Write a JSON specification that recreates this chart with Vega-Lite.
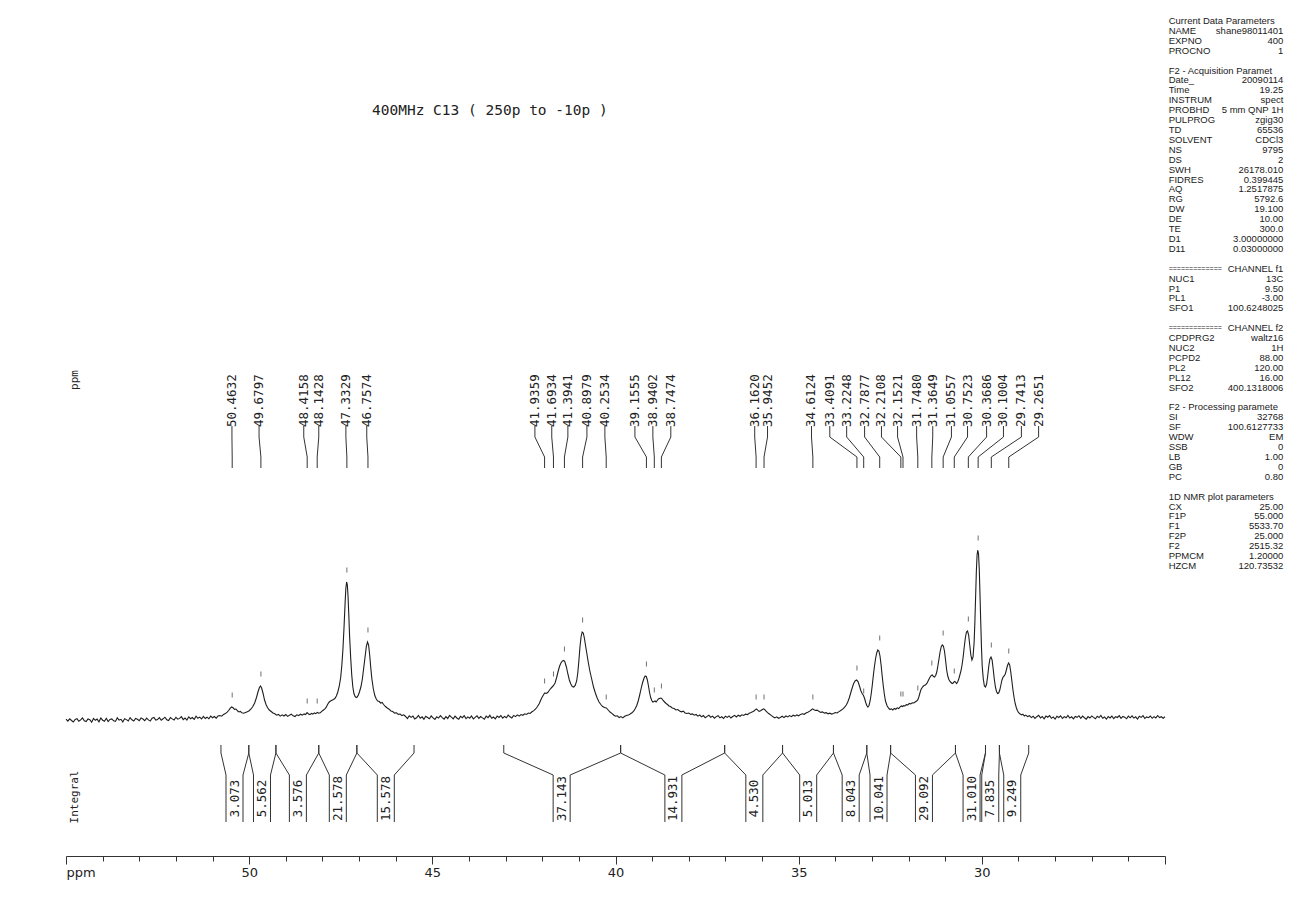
{
"$schema":"https://vega.github.io/schema/vega-lite/v6.json",
"width":1099,"height":856,
"autosize":{"type":"none"},
"padding":{"left":66,"top":0,"right":131,"bottom":59},
"background":"#ffffff",
"config":{"view":{"stroke":null}},
"title":{"text":"400MHz C13 ( 250p to -10p )","anchor":"start","frame":"group","font":"DejaVu Sans Mono","fontSize":14.5,"fontWeight":"normal","color":"#222222","baseline":"middle","offset":0,"dx":306,"dy":125},
"datasets":{
"spectrum":[
{"ppm":55.00,"i":-2.2},{"ppm":54.95,"i":-4.1},{"ppm":54.90,"i":-1.8},{"ppm":54.85,"i":-3.5},{"ppm":54.80,"i":-5.0},{"ppm":54.75,"i":-2.4},{"ppm":54.70,"i":-1.6},{"ppm":54.65,"i":-4.3},{"ppm":54.60,"i":-2.9},{"ppm":54.55,"i":-0.9},{"ppm":54.50,"i":-3.8},{"ppm":54.45,"i":-4.6},{"ppm":54.40,"i":-1.9},{"ppm":54.35,"i":-2.7},{"ppm":54.30,"i":-5.2},{"ppm":54.25,"i":-1.4},{"ppm":54.20,"i":-3.3},{"ppm":54.15,"i":-2.1},{"ppm":54.10,"i":-4.8},{"ppm":54.05,"i":-1.0},{"ppm":54.00,"i":-3.2},{"ppm":53.95,"i":-4.2},{"ppm":53.90,"i":-1.3},{"ppm":53.85,"i":-4.5},{"ppm":53.80,"i":-2.5},{"ppm":53.75,"i":-1.9},{"ppm":53.70,"i":-3.8},{"ppm":53.65,"i":-4.4},{"ppm":53.60,"i":-0.8},{"ppm":53.55,"i":-3.0},{"ppm":53.50,"i":-2.3},{"ppm":53.45,"i":-4.9},{"ppm":53.40,"i":-1.7},{"ppm":53.35,"i":-2.6},{"ppm":53.30,"i":-3.9},{"ppm":53.25,"i":-0.6},{"ppm":53.20,"i":-2.8},{"ppm":53.15,"i":-4.0},{"ppm":53.10,"i":-1.5},{"ppm":53.05,"i":-2.2},{"ppm":53.00,"i":-3.6},{"ppm":52.95,"i":-0.9},{"ppm":52.90,"i":-2.0},{"ppm":52.85,"i":-3.7},{"ppm":52.80,"i":-1.1},{"ppm":52.75,"i":-2.9},{"ppm":52.70,"i":-4.1},{"ppm":52.65,"i":-1.2},{"ppm":52.60,"i":-0.4},{"ppm":52.55,"i":-3.1},{"ppm":52.50,"i":-2.4},{"ppm":52.45,"i":-0.7},{"ppm":52.40,"i":-3.3},{"ppm":52.35,"i":-1.8},{"ppm":52.30,"i":-0.2},{"ppm":52.25,"i":-2.7},{"ppm":52.20,"i":-3.5},{"ppm":52.15,"i":-0.6},{"ppm":52.10,"i":-1.9},{"ppm":52.05,"i":-3.0},{"ppm":52.00,"i":-0.3},{"ppm":51.95,"i":-2.2},{"ppm":51.90,"i":-1.4},{"ppm":51.85,"i":0.4},{"ppm":51.80,"i":-2.6},{"ppm":51.75,"i":-1.0},{"ppm":51.70,"i":-3.1},{"ppm":51.65,"i":0.2},{"ppm":51.60,"i":-1.7},{"ppm":51.55,"i":-0.5},{"ppm":51.50,"i":-2.4},{"ppm":51.45,"i":0.8},{"ppm":51.40,"i":-1.3},{"ppm":51.35,"i":-0.1},{"ppm":51.30,"i":-2.0},{"ppm":51.25,"i":0.6},{"ppm":51.20,"i":-1.5},{"ppm":51.15,"i":-0.2},{"ppm":51.10,"i":-1.8},{"ppm":51.05,"i":0.9},{"ppm":51.00,"i":-0.7},{"ppm":50.95,"i":0.5},{"ppm":50.90,"i":-1.2},{"ppm":50.85,"i":1.1},
{"ppm":50.80,"i":1.4},{"ppm":50.75,"i":0.8},{"ppm":50.70,"i":2.6},{"ppm":50.65,"i":3.4},{"ppm":50.60,"i":4.8},{"ppm":50.56,"i":6.5},{"ppm":50.52,"i":8.6},{"ppm":50.48,"i":10.0},{"ppm":50.44,"i":9.2},{"ppm":50.40,"i":7.6},{"ppm":50.36,"i":8.0},{"ppm":50.32,"i":6.2},{"ppm":50.28,"i":5.1},{"ppm":50.24,"i":5.6},{"ppm":50.20,"i":4.2},{"ppm":50.15,"i":3.8},{"ppm":50.10,"i":4.5},{"ppm":50.05,"i":5.2},
{"ppm":50.00,"i":6.3},{"ppm":49.95,"i":8.0},{"ppm":49.90,"i":10.5},{"ppm":49.85,"i":14.0},{"ppm":49.80,"i":19.5},{"ppm":49.76,"i":25.0},{"ppm":49.72,"i":29.5},{"ppm":49.69,"i":31.0},{"ppm":49.66,"i":29.0},{"ppm":49.62,"i":23.5},{"ppm":49.58,"i":17.0},{"ppm":49.54,"i":12.5},{"ppm":49.50,"i":9.5},{"ppm":49.45,"i":7.0},{"ppm":49.40,"i":5.5},{"ppm":49.35,"i":4.0},{"ppm":49.30,"i":3.2},{"ppm":49.25,"i":1.8},{"ppm":49.20,"i":2.6},{"ppm":49.15,"i":0.9},{"ppm":49.10,"i":2.1},{"ppm":49.05,"i":1.0},{"ppm":49.00,"i":2.4},{"ppm":48.95,"i":0.6},{"ppm":48.90,"i":1.7},{"ppm":48.85,"i":2.9},{"ppm":48.80,"i":1.2},{"ppm":48.75,"i":0.5},{"ppm":48.70,"i":2.2},{"ppm":48.65,"i":1.4},{"ppm":48.60,"i":2.8},{"ppm":48.55,"i":1.9},{"ppm":48.50,"i":3.1},{"ppm":48.46,"i":2.5},{"ppm":48.42,"i":4.4},{"ppm":48.38,"i":3.0},{"ppm":48.34,"i":2.4},{"ppm":48.30,"i":3.6},{"ppm":48.26,"i":2.9},{"ppm":48.22,"i":4.1},{"ppm":48.18,"i":3.3},{"ppm":48.14,"i":4.6},{"ppm":48.10,"i":3.8},{"ppm":48.06,"i":4.2},{"ppm":48.02,"i":5.6},{"ppm":47.98,"i":6.8},{"ppm":47.94,"i":7.9},{"ppm":47.90,"i":9.6},{"ppm":47.86,"i":12.5},{"ppm":47.82,"i":14.8},{"ppm":47.78,"i":16.0},{"ppm":47.74,"i":16.8},{"ppm":47.70,"i":17.5},{"ppm":47.66,"i":18.5},{"ppm":47.62,"i":21.0},{"ppm":47.58,"i":25.0},{"ppm":47.54,"i":31.0},{"ppm":47.50,"i":40.0},{"ppm":47.47,"i":52.0},{"ppm":47.44,"i":68.0},{"ppm":47.41,"i":90.0},{"ppm":47.38,"i":115.0},{"ppm":47.36,"i":129.0},{"ppm":47.34,"i":135.0},{"ppm":47.32,"i":132.0},{"ppm":47.30,"i":120.0},{"ppm":47.28,"i":102.0},{"ppm":47.26,"i":82.0},{"ppm":47.23,"i":60.0},{"ppm":47.20,"i":42.0},{"ppm":47.17,"i":30.0},{"ppm":47.14,"i":23.5},{"ppm":47.11,"i":20.5},{"ppm":47.08,"i":19.5},{"ppm":47.05,"i":20.0},{"ppm":47.02,"i":22.0},{"ppm":46.99,"i":25.0},{"ppm":46.95,"i":30.0},{"ppm":46.91,"i":38.0},{"ppm":46.87,"i":50.0},{"ppm":46.83,"i":62.0},{"ppm":46.80,"i":71.0},{"ppm":46.77,"i":75.0},{"ppm":46.74,"i":72.0},{"ppm":46.71,"i":62.0},{"ppm":46.68,"i":49.0},{"ppm":46.65,"i":38.0},{"ppm":46.61,"i":28.0},{"ppm":46.57,"i":21.5},{"ppm":46.53,"i":18.0},{"ppm":46.49,"i":16.0},{"ppm":46.45,"i":15.5},{"ppm":46.41,"i":14.0},{"ppm":46.37,"i":14.5},{"ppm":46.33,"i":12.5},{"ppm":46.28,"i":10.5},{"ppm":46.23,"i":9.0},{"ppm":46.18,"i":7.8},{"ppm":46.13,"i":6.1},{"ppm":46.08,"i":5.4},{"ppm":46.03,"i":3.9},{"ppm":45.98,"i":4.2},{"ppm":45.93,"i":2.6},{"ppm":45.88,"i":3.0},{"ppm":45.83,"i":1.4},{"ppm":45.78,"i":2.2},
{"ppm":45.73,"i":0.5},{"ppm":45.68,"i":-1.6},{"ppm":45.63,"i":1.2},{"ppm":45.58,"i":-0.4},{"ppm":45.53,"i":0.9},{"ppm":45.48,"i":-2.0},{"ppm":45.43,"i":-0.8},{"ppm":45.38,"i":1.5},{"ppm":45.33,"i":-1.3},{"ppm":45.28,"i":0.2},{"ppm":45.23,"i":-2.2},{"ppm":45.18,"i":0.7},{"ppm":45.13,"i":-0.5},{"ppm":45.08,"i":-1.8},{"ppm":45.03,"i":1.0},{"ppm":44.98,"i":-0.9},{"ppm":44.93,"i":-2.4},{"ppm":44.88,"i":0.3},{"ppm":44.83,"i":-1.1},{"ppm":44.78,"i":1.3},{"ppm":44.73,"i":-0.6},{"ppm":44.68,"i":-2.1},{"ppm":44.63,"i":0.4},{"ppm":44.58,"i":-1.5},{"ppm":44.53,"i":1.6},{"ppm":44.48,"i":-0.2},{"ppm":44.43,"i":-1.9},{"ppm":44.38,"i":0.8},{"ppm":44.33,"i":-1.0},{"ppm":44.28,"i":-2.3},{"ppm":44.23,"i":0.6},{"ppm":44.18,"i":-0.7},{"ppm":44.13,"i":1.4},{"ppm":44.08,"i":-1.7},{"ppm":44.03,"i":0.1},{"ppm":43.98,"i":-1.2},{"ppm":43.93,"i":1.1},{"ppm":43.88,"i":-2.0},{"ppm":43.83,"i":-0.3},{"ppm":43.78,"i":1.2},{"ppm":43.73,"i":-1.4},{"ppm":43.68,"i":0.5},{"ppm":43.63,"i":-0.9},{"ppm":43.58,"i":-2.2},{"ppm":43.53,"i":0.9},{"ppm":43.48,"i":-0.6},{"ppm":43.43,"i":1.7},{"ppm":43.38,"i":-1.3},{"ppm":43.33,"i":0.0},{"ppm":43.28,"i":-1.8},{"ppm":43.23,"i":1.0},{"ppm":43.18,"i":-0.4},{"ppm":43.13,"i":1.5},{"ppm":43.08,"i":-1.1},{"ppm":43.03,"i":0.6},{"ppm":42.98,"i":-0.8},{"ppm":42.93,"i":1.9},{"ppm":42.88,"i":0.2},{"ppm":42.83,"i":-0.9},{"ppm":42.78,"i":1.6},{"ppm":42.73,"i":0.4},{"ppm":42.68,"i":2.1},{"ppm":42.63,"i":0.9},{"ppm":42.58,"i":2.4},{"ppm":42.53,"i":1.7},{"ppm":42.48,"i":3.2},
{"ppm":42.43,"i":2.6},{"ppm":42.38,"i":4.0},{"ppm":42.33,"i":3.5},{"ppm":42.28,"i":5.2},{"ppm":42.23,"i":6.4},{"ppm":42.18,"i":8.0},{"ppm":42.13,"i":10.5},{"ppm":42.08,"i":13.5},{"ppm":42.04,"i":17.0},{"ppm":42.00,"i":20.0},{"ppm":41.96,"i":22.5},{"ppm":41.93,"i":24.0},{"ppm":41.89,"i":23.5},{"ppm":41.85,"i":24.5},{"ppm":41.81,"i":26.5},{"ppm":41.77,"i":28.5},{"ppm":41.73,"i":30.0},{"ppm":41.69,"i":31.5},{"ppm":41.65,"i":34.0},{"ppm":41.61,"i":39.0},{"ppm":41.57,"i":45.0},{"ppm":41.53,"i":50.5},{"ppm":41.49,"i":54.0},{"ppm":41.45,"i":56.0},{"ppm":41.41,"i":56.5},{"ppm":41.38,"i":55.0},{"ppm":41.34,"i":50.0},{"ppm":41.30,"i":43.0},{"ppm":41.26,"i":37.0},{"ppm":41.22,"i":33.0},{"ppm":41.18,"i":30.5},{"ppm":41.14,"i":30.0},{"ppm":41.10,"i":31.5},{"ppm":41.06,"i":36.0},{"ppm":41.03,"i":44.0},{"ppm":41.00,"i":56.0},{"ppm":40.97,"i":70.0},{"ppm":40.94,"i":80.0},{"ppm":40.91,"i":85.0},{"ppm":40.88,"i":84.0},{"ppm":40.85,"i":79.0},{"ppm":40.82,"i":72.0},{"ppm":40.78,"i":63.0},{"ppm":40.74,"i":54.0},{"ppm":40.70,"i":46.0},{"ppm":40.65,"i":38.0},{"ppm":40.60,"i":30.0},{"ppm":40.55,"i":24.0},{"ppm":40.50,"i":19.0},{"ppm":40.45,"i":15.0},{"ppm":40.40,"i":12.5},{"ppm":40.35,"i":10.5},{"ppm":40.30,"i":9.5},{"ppm":40.25,"i":9.0},{"ppm":40.20,"i":7.0},{"ppm":40.15,"i":5.0},{"ppm":40.10,"i":3.6},{"ppm":40.05,"i":2.0},{"ppm":40.00,"i":0.8},{"ppm":39.95,"i":1.2},{"ppm":39.90,"i":-0.6},{"ppm":39.85,"i":0.4},{"ppm":39.80,"i":-0.9},{"ppm":39.75,"i":0.7},{"ppm":39.70,"i":1.5},{"ppm":39.65,"i":1.9},{"ppm":39.60,"i":3.0},{"ppm":39.55,"i":4.2},{"ppm":39.50,"i":6.0},{"ppm":39.46,"i":8.5},{"ppm":39.42,"i":11.5},{"ppm":39.38,"i":16.0},{"ppm":39.34,"i":22.0},{"ppm":39.30,"i":28.5},{"ppm":39.26,"i":34.5},{"ppm":39.22,"i":39.0},{"ppm":39.19,"i":41.0},{"ppm":39.16,"i":40.5},{"ppm":39.13,"i":37.0},{"ppm":39.10,"i":31.0},{"ppm":39.07,"i":24.5},{"ppm":39.04,"i":19.5},{"ppm":39.01,"i":16.5},{"ppm":38.98,"i":15.0},{"ppm":38.95,"i":15.5},{"ppm":38.92,"i":16.0},{"ppm":38.89,"i":15.0},{"ppm":38.86,"i":16.5},{"ppm":38.83,"i":18.0},{"ppm":38.80,"i":18.5},{"ppm":38.77,"i":19.0},{"ppm":38.74,"i":18.5},{"ppm":38.70,"i":16.5},{"ppm":38.66,"i":15.0},{"ppm":38.62,"i":13.5},{"ppm":38.58,"i":12.5},{"ppm":38.54,"i":11.0},{"ppm":38.50,"i":10.5},{"ppm":38.45,"i":9.0},{"ppm":38.40,"i":8.5},{"ppm":38.35,"i":7.0},{"ppm":38.30,"i":7.5},{"ppm":38.25,"i":6.0},{"ppm":38.20,"i":5.2},{"ppm":38.15,"i":5.8},{"ppm":38.10,"i":4.1},{"ppm":38.05,"i":3.5},{"ppm":38.00,"i":4.0},{"ppm":37.95,"i":2.6},{"ppm":37.90,"i":3.1},{"ppm":37.85,"i":1.8},{"ppm":37.80,"i":2.5},
{"ppm":37.75,"i":0.9},{"ppm":37.70,"i":2.0},{"ppm":37.65,"i":0.2},{"ppm":37.60,"i":1.4},{"ppm":37.55,"i":-0.8},{"ppm":37.50,"i":0.6},{"ppm":37.45,"i":1.7},{"ppm":37.40,"i":-0.3},{"ppm":37.35,"i":0.9},{"ppm":37.30,"i":-1.2},{"ppm":37.25,"i":0.4},{"ppm":37.20,"i":1.3},{"ppm":37.15,"i":-0.9},{"ppm":37.10,"i":0.2},{"ppm":37.05,"i":-1.5},{"ppm":37.00,"i":0.8},{"ppm":36.95,"i":-0.4},{"ppm":36.90,"i":1.1},{"ppm":36.85,"i":-1.0},{"ppm":36.80,"i":0.5},{"ppm":36.75,"i":1.6},{"ppm":36.70,"i":0.0},{"ppm":36.65,"i":1.8},{"ppm":36.60,"i":0.7},{"ppm":36.55,"i":2.2},{"ppm":36.50,"i":1.5},{"ppm":36.45,"i":2.9},{"ppm":36.40,"i":2.4},{"ppm":36.35,"i":3.8},{"ppm":36.30,"i":4.5},{"ppm":36.26,"i":5.2},{"ppm":36.22,"i":6.0},{"ppm":36.18,"i":7.4},{"ppm":36.15,"i":8.0},{"ppm":36.12,"i":6.8},{"ppm":36.08,"i":5.6},{"ppm":36.04,"i":6.2},{"ppm":36.00,"i":7.2},{"ppm":35.96,"i":8.2},{"ppm":35.93,"i":7.6},{"ppm":35.89,"i":5.9},{"ppm":35.85,"i":4.4},{"ppm":35.80,"i":3.0},{"ppm":35.75,"i":1.6},{"ppm":35.70,"i":0.3},{"ppm":35.65,"i":-0.9},{"ppm":35.60,"i":0.2},{"ppm":35.55,"i":-1.3},{"ppm":35.50,"i":-0.4},{"ppm":35.45,"i":0.8},{"ppm":35.40,"i":-0.6},{"ppm":35.35,"i":1.0},{"ppm":35.30,"i":0.1},{"ppm":35.25,"i":1.4},{"ppm":35.20,"i":0.3},{"ppm":35.15,"i":1.8},{"ppm":35.10,"i":0.9},{"ppm":35.05,"i":2.1},{"ppm":35.00,"i":1.2},{"ppm":34.95,"i":2.6},{"ppm":34.90,"i":3.2},{"ppm":34.85,"i":2.7},{"ppm":34.80,"i":4.0},{"ppm":34.75,"i":4.8},{"ppm":34.70,"i":5.9},{"ppm":34.66,"i":7.0},{"ppm":34.62,"i":8.2},{"ppm":34.58,"i":7.3},{"ppm":34.54,"i":6.5},{"ppm":34.50,"i":6.9},{"ppm":34.45,"i":5.8},{"ppm":34.40,"i":4.6},{"ppm":34.35,"i":5.1},{"ppm":34.30,"i":3.9},{"ppm":34.25,"i":4.4},{"ppm":34.20,"i":3.2},{"ppm":34.15,"i":3.8},{"ppm":34.10,"i":2.9},{"ppm":34.05,"i":3.6},{"ppm":34.00,"i":4.5},{"ppm":33.95,"i":4.0},{"ppm":33.90,"i":5.4},{"ppm":33.85,"i":6.5},{"ppm":33.80,"i":7.8},{"ppm":33.75,"i":9.6},{"ppm":33.70,"i":12.0},{"ppm":33.66,"i":15.0},{"ppm":33.62,"i":19.0},{"ppm":33.58,"i":24.0},{"ppm":33.54,"i":29.0},{"ppm":33.50,"i":33.5},{"ppm":33.46,"i":36.0},{"ppm":33.42,"i":37.0},{"ppm":33.38,"i":35.5},{"ppm":33.34,"i":31.0},{"ppm":33.30,"i":26.0},{"ppm":33.26,"i":23.0},{"ppm":33.23,"i":21.5},{"ppm":33.20,"i":18.5},{"ppm":33.17,"i":14.5},{"ppm":33.14,"i":11.5},{"ppm":33.11,"i":10.0},{"ppm":33.08,"i":11.5},{"ppm":33.05,"i":16.0},{"ppm":33.02,"i":23.0},{"ppm":32.99,"i":32.0},{"ppm":32.96,"i":42.0},{"ppm":32.93,"i":51.0},{"ppm":32.90,"i":58.5},{"ppm":32.87,"i":64.0},{"ppm":32.84,"i":67.0},{"ppm":32.81,"i":66.0},{"ppm":32.78,"i":61.0},{"ppm":32.75,"i":52.0},{"ppm":32.72,"i":41.0},{"ppm":32.69,"i":31.0},{"ppm":32.66,"i":22.5},{"ppm":32.63,"i":16.0},{"ppm":32.59,"i":11.5},{"ppm":32.55,"i":9.0},{"ppm":32.51,"i":7.5},{"ppm":32.47,"i":8.2},{"ppm":32.43,"i":7.0},{"ppm":32.39,"i":8.6},{"ppm":32.35,"i":7.8},{"ppm":32.31,"i":9.2},{"ppm":32.27,"i":8.5},{"ppm":32.23,"i":10.2},{"ppm":32.20,"i":11.0},{"ppm":32.17,"i":10.4},{"ppm":32.14,"i":11.3},{"ppm":32.10,"i":11.0},{"ppm":32.06,"i":12.4},{"ppm":32.02,"i":12.0},{"ppm":31.98,"i":13.5},{"ppm":31.94,"i":13.0},{"ppm":31.90,"i":14.2},{"ppm":31.86,"i":14.0},{"ppm":31.82,"i":15.0},{"ppm":31.78,"i":16.0},{"ppm":31.75,"i":17.0},{"ppm":31.72,"i":20.0},{"ppm":31.69,"i":24.0},{"ppm":31.66,"i":27.5},{"ppm":31.62,"i":30.0},{"ppm":31.58,"i":31.5},{"ppm":31.54,"i":32.0},{"ppm":31.50,"i":33.5},{"ppm":31.46,"i":36.5},{"ppm":31.42,"i":39.5},{"ppm":31.38,"i":41.5},{"ppm":31.35,"i":42.0},{"ppm":31.32,"i":40.5},{"ppm":31.29,"i":40.0},{"ppm":31.26,"i":41.5},{"ppm":31.23,"i":45.0},{"ppm":31.20,"i":51.0},{"ppm":31.17,"i":58.0},{"ppm":31.14,"i":65.0},{"ppm":31.11,"i":70.0},{"ppm":31.08,"i":72.0},{"ppm":31.05,"i":71.0},{"ppm":31.02,"i":66.0},{"ppm":30.99,"i":57.0},{"ppm":30.96,"i":47.0},{"ppm":30.93,"i":41.0},{"ppm":30.90,"i":37.5},{"ppm":30.87,"i":35.5},{"ppm":30.84,"i":34.5},{"ppm":30.81,"i":33.5},{"ppm":30.78,"i":34.0},{"ppm":30.75,"i":35.5},{"ppm":30.72,"i":35.0},{"ppm":30.69,"i":33.5},{"ppm":30.66,"i":35.0},{"ppm":30.63,"i":38.0},{"ppm":30.60,"i":42.0},{"ppm":30.57,"i":46.0},{"ppm":30.54,"i":52.0},{"ppm":30.51,"i":60.0},{"ppm":30.48,"i":70.0},{"ppm":30.45,"i":79.0},{"ppm":30.42,"i":85.0},{"ppm":30.39,"i":86.0},{"ppm":30.36,"i":82.0},{"ppm":30.33,"i":72.0},{"ppm":30.30,"i":62.0},{"ppm":30.27,"i":57.0},{"ppm":30.24,"i":60.0},{"ppm":30.21,"i":75.0},{"ppm":30.19,"i":95.0},{"ppm":30.17,"i":120.0},{"ppm":30.15,"i":145.0},{"ppm":30.13,"i":162.0},{"ppm":30.11,"i":167.0},{"ppm":30.09,"i":163.0},{"ppm":30.07,"i":148.0},{"ppm":30.05,"i":122.0},{"ppm":30.03,"i":95.0},{"ppm":30.01,"i":70.0},{"ppm":29.99,"i":51.0},{"ppm":29.96,"i":38.0},{"ppm":29.93,"i":31.0},{"ppm":29.90,"i":30.0},{"ppm":29.87,"i":33.0},{"ppm":29.84,"i":41.0},{"ppm":29.81,"i":51.0},{"ppm":29.78,"i":58.0},{"ppm":29.75,"i":60.0},{"ppm":29.72,"i":57.0},{"ppm":29.69,"i":48.0},{"ppm":29.66,"i":38.0},{"ppm":29.63,"i":30.0},{"ppm":29.60,"i":25.5},{"ppm":29.57,"i":23.5},{"ppm":29.54,"i":24.0},{"ppm":29.51,"i":27.0},{"ppm":29.48,"i":32.0},{"ppm":29.45,"i":37.0},{"ppm":29.42,"i":40.0},{"ppm":29.39,"i":41.0},{"ppm":29.36,"i":43.0},{"ppm":29.33,"i":47.0},{"ppm":29.30,"i":51.5},{"ppm":29.27,"i":54.0},{"ppm":29.24,"i":52.0},{"ppm":29.21,"i":45.0},{"ppm":29.18,"i":36.0},{"ppm":29.15,"i":27.0},{"ppm":29.12,"i":19.5},{"ppm":29.09,"i":13.5},{"ppm":29.06,"i":9.5},{"ppm":29.03,"i":6.5},{"ppm":29.00,"i":4.5},{"ppm":28.96,"i":3.2},{"ppm":28.92,"i":2.1},{"ppm":28.88,"i":2.8},{"ppm":28.84,"i":1.0},{"ppm":28.80,"i":1.9},{"ppm":28.75,"i":0.4},
{"ppm":28.70,"i":1.3},{"ppm":28.65,"i":-0.6},{"ppm":28.60,"i":0.8},{"ppm":28.55,"i":-1.4},{"ppm":28.50,"i":0.3},{"ppm":28.45,"i":1.7},{"ppm":28.40,"i":-0.9},{"ppm":28.35,"i":0.5},{"ppm":28.30,"i":-1.8},{"ppm":28.25,"i":0.9},{"ppm":28.20,"i":-0.2},{"ppm":28.15,"i":1.4},{"ppm":28.10,"i":-1.2},{"ppm":28.05,"i":0.1},{"ppm":28.00,"i":-2.0},{"ppm":27.95,"i":0.7},{"ppm":27.90,"i":-0.5},{"ppm":27.85,"i":1.2},{"ppm":27.80,"i":-1.5},{"ppm":27.75,"i":0.4},{"ppm":27.70,"i":-0.8},{"ppm":27.65,"i":1.6},{"ppm":27.60,"i":-1.1},{"ppm":27.55,"i":0.2},{"ppm":27.50,"i":-1.9},{"ppm":27.45,"i":0.6},{"ppm":27.40,"i":-0.3},{"ppm":27.35,"i":1.3},{"ppm":27.30,"i":-1.3},{"ppm":27.25,"i":0.9},{"ppm":27.20,"i":-0.7},{"ppm":27.15,"i":-2.1},{"ppm":27.10,"i":0.4},{"ppm":27.05,"i":-1.0},{"ppm":27.00,"i":1.1},{"ppm":26.95,"i":-0.4},{"ppm":26.90,"i":-1.7},{"ppm":26.85,"i":0.8},{"ppm":26.80,"i":-0.6},{"ppm":26.75,"i":1.5},{"ppm":26.70,"i":-1.2},{"ppm":26.65,"i":0.0},{"ppm":26.60,"i":-2.2},{"ppm":26.55,"i":0.5},{"ppm":26.50,"i":-0.9},{"ppm":26.45,"i":1.0},{"ppm":26.40,"i":-1.6},{"ppm":26.35,"i":0.3},{"ppm":26.30,"i":-0.5},{"ppm":26.25,"i":1.4},{"ppm":26.20,"i":-1.4},{"ppm":26.15,"i":0.6},{"ppm":26.10,"i":-0.2},{"ppm":26.05,"i":-1.8},{"ppm":26.00,"i":0.9},{"ppm":25.95,"i":-0.8},{"ppm":25.90,"i":1.2},{"ppm":25.85,"i":-1.1},{"ppm":25.80,"i":0.2},{"ppm":25.75,"i":-2.0},{"ppm":25.70,"i":0.7},{"ppm":25.65,"i":-0.4},{"ppm":25.60,"i":1.3},{"ppm":25.55,"i":-1.5},{"ppm":25.50,"i":0.1},{"ppm":25.45,"i":-0.7},{"ppm":25.40,"i":1.0},{"ppm":25.35,"i":-1.3},{"ppm":25.30,"i":0.4},{"ppm":25.25,"i":-0.9},{"ppm":25.20,"i":1.5},{"ppm":25.15,"i":-0.6},{"ppm":25.10,"i":0.3},{"ppm":25.05,"i":-1.2},{"ppm":25.00,"i":0.2}
],
"peaks":[
{"ppm":50.4632,"at":50.47,"h":10},{"ppm":49.6797,"at":49.73,"h":31},{"ppm":48.4158,"at":48.51,"h":4},{"ppm":48.1428,"at":48.10,"h":4},{"ppm":47.3329,"at":47.36,"h":135},{"ppm":46.7574,"at":46.79,"h":75},
{"ppm":41.9359,"at":42.20,"h":24},{"ppm":41.6934,"at":41.74,"h":31},{"ppm":41.3941,"at":41.30,"h":56},{"ppm":40.8979,"at":40.78,"h":85},{"ppm":40.2534,"at":40.29,"h":8},
{"ppm":39.1555,"at":39.47,"h":41},{"ppm":38.9402,"at":38.98,"h":15},{"ppm":38.7474,"at":38.49,"h":19},
{"ppm":36.1620,"at":36.20,"h":8},{"ppm":35.9452,"at":35.85,"h":8},
{"ppm":34.6124,"at":34.65,"h":8},{"ppm":33.4091,"at":34.15,"h":37},{"ppm":33.2248,"at":33.69,"h":14},{"ppm":32.7877,"at":33.20,"h":67},{"ppm":32.2108,"at":32.74,"h":11},{"ppm":32.1521,"at":32.30,"h":11},{"ppm":31.7480,"at":31.78,"h":17},{"ppm":31.3649,"at":31.34,"h":42},{"ppm":31.0557,"at":30.83,"h":72},{"ppm":30.7523,"at":30.39,"h":34},{"ppm":30.3686,"at":29.87,"h":86},{"ppm":30.1004,"at":29.41,"h":167},{"ppm":29.7413,"at":28.92,"h":60},{"ppm":29.2651,"at":28.45,"h":54}
],
"integrals":[
{"from":50.77,"to":50.01,"at":50.40,"value":3.073},{"from":50.01,"to":49.27,"at":49.65,"value":5.562},{"from":49.27,"to":48.10,"at":48.67,"value":3.576},{"from":48.10,"to":47.06,"at":47.58,"value":21.578},{"from":47.06,"to":45.50,"at":46.27,"value":15.578},
{"from":43.05,"to":39.86,"at":41.47,"value":37.143},{"from":39.86,"to":37.02,"at":38.42,"value":14.931},{"from":37.02,"to":35.44,"at":36.21,"value":4.530},{"from":35.44,"to":34.05,"at":34.74,"value":5.013},{"from":34.05,"to":33.14,"at":33.58,"value":8.043},{"from":33.14,"to":32.49,"at":32.82,"value":10.041},{"from":32.49,"to":30.72,"at":31.58,"value":29.092},{"from":30.72,"to":29.90,"at":30.28,"value":31.010},{"from":29.90,"to":29.52,"at":29.77,"value":7.835},{"from":29.52,"to":28.72,"at":29.17,"value":9.249}
],
"params":[
{"row":0,"name":"Current Data Parameters","value":""},{"row":1,"name":"NAME","value":"shane98011401"},{"row":2,"name":"EXPNO","value":"400"},{"row":3,"name":"PROCNO","value":"1"},
{"row":5,"name":"F2 - Acquisition Paramet","value":""},{"row":6,"name":"Date_","value":"20090114"},{"row":7,"name":"Time","value":"19.25"},{"row":8,"name":"INSTRUM","value":"spect"},{"row":9,"name":"PROBHD","value":"5 mm QNP  1H"},{"row":10,"name":"PULPROG","value":"zgig30"},{"row":11,"name":"TD","value":"65536"},{"row":12,"name":"SOLVENT","value":"CDCl3"},{"row":13,"name":"NS","value":"9795"},{"row":14,"name":"DS","value":"2"},{"row":15,"name":"SWH","value":"26178.010"},{"row":16,"name":"FIDRES","value":"0.399445"},{"row":17,"name":"AQ","value":"1.2517875"},{"row":18,"name":"RG","value":"5792.6"},{"row":19,"name":"DW","value":"19.100"},{"row":20,"name":"DE","value":"10.00"},{"row":21,"name":"TE","value":"300.0"},{"row":22,"name":"D1","value":"3.00000000"},{"row":23,"name":"D11","value":"0.03000000"},
{"row":25,"name":"=============","value":"CHANNEL f1"},{"row":26,"name":"NUC1","value":"13C"},{"row":27,"name":"P1","value":"9.50"},{"row":28,"name":"PL1","value":"-3.00"},{"row":29,"name":"SFO1","value":"100.6248025"},
{"row":31,"name":"=============","value":"CHANNEL f2"},{"row":32,"name":"CPDPRG2","value":"waltz16"},{"row":33,"name":"NUC2","value":"1H"},{"row":34,"name":"PCPD2","value":"88.00"},{"row":35,"name":"PL2","value":"120.00"},{"row":36,"name":"PL12","value":"16.00"},{"row":37,"name":"SFO2","value":"400.1318006"},
{"row":39,"name":"F2 - Processing paramete","value":""},{"row":40,"name":"SI","value":"32768"},{"row":41,"name":"SF","value":"100.6127733"},{"row":42,"name":"WDW","value":"EM"},{"row":43,"name":"SSB","value":"0"},{"row":44,"name":"LB","value":"1.00"},{"row":45,"name":"GB","value":"0"},{"row":46,"name":"PC","value":"0.80"},
{"row":48,"name":"1D NMR plot parameters","value":""},{"row":49,"name":"CX","value":"25.00"},{"row":50,"name":"F1P","value":"55.000"},{"row":51,"name":"F1","value":"5533.70"},{"row":52,"name":"F2P","value":"25.000"},{"row":53,"name":"F2","value":"2515.32"},{"row":54,"name":"PPMCM","value":"1.20000"},{"row":55,"name":"HZCM","value":"120.73532"}
],
"sidelabels":[{"label":"ppm"}],
"sidelabels2":[{"label":"Integral"}]
},
"layer":[
{"layer":[
{"data":{"name":"spectrum"},"mark":{"type":"line","stroke":"#1e1e1e","strokeWidth":1.1},
 "encoding":{
  "x":{"field":"ppm","type":"quantitative","scale":{"domain":[55,25],"nice":false,"zero":false},
   "axis":{"orient":"bottom","title":null,"grid":false,"values":[55,54,53,52,51,50,49,48,47,46,45,44,43,42,41,40,39,38,37,36,35,34,33,32,31,30,29,28,27,26,25],
    "tickCount":100,"format":"d","domain":true,"ticks":true,"labels":true,
    "domainColor":"#333333","domainWidth":1,"tickColor":"#333333","tickWidth":1,
    "tickSize":{"condition":{"test":"datum.value % 5 == 0","value":8},"value":5},
    "labelExpr":"datum.value == 55 ? 'ppm' : ((datum.value % 5 == 0 && datum.value != 25) ? format(datum.value, 'd') : '')",
    "labelAlign":{"condition":{"test":"datum.value == 55","value":"left"},"value":"center"},
    "labelFont":"DejaVu Sans","labelFontSize":13,"labelColor":"#222222","labelPadding":2,"labelOverlap":false,"labelFlush":false,"labelBound":false}},
  "y":{"field":"i","type":"quantitative","scale":{"domain":[-139,717],"nice":false,"zero":false},"axis":null}}},
{"data":{"name":"peaks"},"mark":{"type":"tick","orient":"vertical","size":5,"thickness":1,"color":"#333333","yOffset":-12},
 "encoding":{"x":{"field":"ppm","type":"quantitative","axis":{"title":null}},"y":{"field":"h","type":"quantitative","axis":null}}},
{"data":{"name":"peaks"},"mark":{"type":"rule","color":"#333333","strokeWidth":1},
 "encoding":{"x":{"field":"at","type":"quantitative","axis":{"title":null}},"y":{"datum":291,"axis":null},"y2":{"datum":280}}},
{"data":{"name":"peaks"},"mark":{"type":"rule","color":"#333333","strokeWidth":1},
 "encoding":{"x":{"field":"at","type":"quantitative","axis":{"title":null}},"x2":{"field":"ppm"},"y":{"datum":280,"axis":null},"y2":{"datum":260}}},
{"data":{"name":"peaks"},"mark":{"type":"rule","color":"#333333","strokeWidth":1},
 "encoding":{"x":{"field":"ppm","type":"quantitative","axis":{"title":null}},"y":{"datum":260,"axis":null},"y2":{"datum":249}}},
{"data":{"name":"peaks"},"mark":{"type":"text","angle":270,"align":"left","baseline":"middle","font":"DejaVu Sans Mono","fontSize":12.5,"color":"#222222"},
 "encoding":{"x":{"field":"at","type":"quantitative","axis":{"title":null}},"y":{"datum":290,"axis":null},"text":{"field":"ppm","type":"quantitative","format":".4f"}}},
{"data":{"name":"integrals"},"mark":{"type":"rule","color":"#333333","strokeWidth":1},
 "encoding":{"x":{"field":"from","type":"quantitative","axis":{"title":null}},"y":{"datum":-28,"axis":null},"y2":{"datum":-36}}},
{"data":{"name":"integrals"},"mark":{"type":"rule","color":"#333333","strokeWidth":1},
 "encoding":{"x":{"field":"to","type":"quantitative","axis":{"title":null}},"y":{"datum":-28,"axis":null},"y2":{"datum":-36}}},
{"data":{"name":"integrals"},"mark":{"type":"rule","color":"#333333","strokeWidth":1,"x2Offset":-8.5},
 "encoding":{"x":{"field":"from","type":"quantitative","axis":{"title":null}},"x2":{"field":"at"},"y":{"datum":-36,"axis":null},"y2":{"datum":-58}}},
{"data":{"name":"integrals"},"mark":{"type":"rule","color":"#333333","strokeWidth":1,"x2Offset":8.5},
 "encoding":{"x":{"field":"to","type":"quantitative","axis":{"title":null}},"x2":{"field":"at"},"y":{"datum":-36,"axis":null},"y2":{"datum":-58}}},
{"data":{"name":"integrals"},"mark":{"type":"rule","color":"#333333","strokeWidth":1,"xOffset":-8.5},
 "encoding":{"x":{"field":"at","type":"quantitative","axis":{"title":null}},"y":{"datum":-58,"axis":null},"y2":{"datum":-105}}},
{"data":{"name":"integrals"},"mark":{"type":"rule","color":"#333333","strokeWidth":1,"xOffset":8.5},
 "encoding":{"x":{"field":"at","type":"quantitative","axis":{"title":null}},"y":{"datum":-58,"axis":null},"y2":{"datum":-105}}},
{"data":{"name":"integrals"},"mark":{"type":"text","angle":270,"align":"center","baseline":"middle","font":"DejaVu Sans Mono","fontSize":12.5,"color":"#222222"},
 "encoding":{"x":{"field":"at","type":"quantitative","axis":{"title":null}},"y":{"datum":-81.5,"axis":null},"text":{"field":"value","type":"quantitative","format":".3f"}}},
{"data":{"name":"sidelabels"},"mark":{"type":"text","angle":270,"align":"center","baseline":"middle","font":"DejaVu Sans Mono","fontSize":11,"color":"#222222"},
 "encoding":{"x":{"datum":54.75,"type":"quantitative","axis":{"title":null}},"y":{"datum":337,"axis":null},"text":{"field":"label"}}},
{"data":{"name":"sidelabels2"},"mark":{"type":"text","angle":270,"align":"center","baseline":"middle","font":"DejaVu Sans Mono","fontSize":11,"color":"#222222"},
 "encoding":{"x":{"datum":54.75,"type":"quantitative","axis":{"title":null}},"y":{"datum":-80,"axis":null},"text":{"field":"label"}}}
]},
{"layer":[
{"data":{"name":"params"},"mark":{"type":"text","align":"left","baseline":"middle","font":"Liberation Sans","color":"#1a1a1a"},
 "encoding":{"x":{"datum":24.9,"type":"quantitative","axis":{"title":null}},"y":{"field":"row","type":"quantitative","scale":{"domain":[84.27,-2.12],"nice":false,"zero":false},"axis":null},"text":{"field":"name"},
  "size":{"condition":{"test":"indexof(datum.name, '=') == 0","value":7},"value":9.5}}},
{"data":{"name":"params"},"mark":{"type":"text","align":"right","baseline":"middle","font":"Liberation Sans","fontSize":9.5,"color":"#1a1a1a"},
 "encoding":{"x":{"datum":21.77,"type":"quantitative","axis":{"title":null}},"y":{"field":"row","type":"quantitative","axis":null},"text":{"field":"value"}}}
]}
],
"resolve":{"scale":{"y":"independent"}}
}
